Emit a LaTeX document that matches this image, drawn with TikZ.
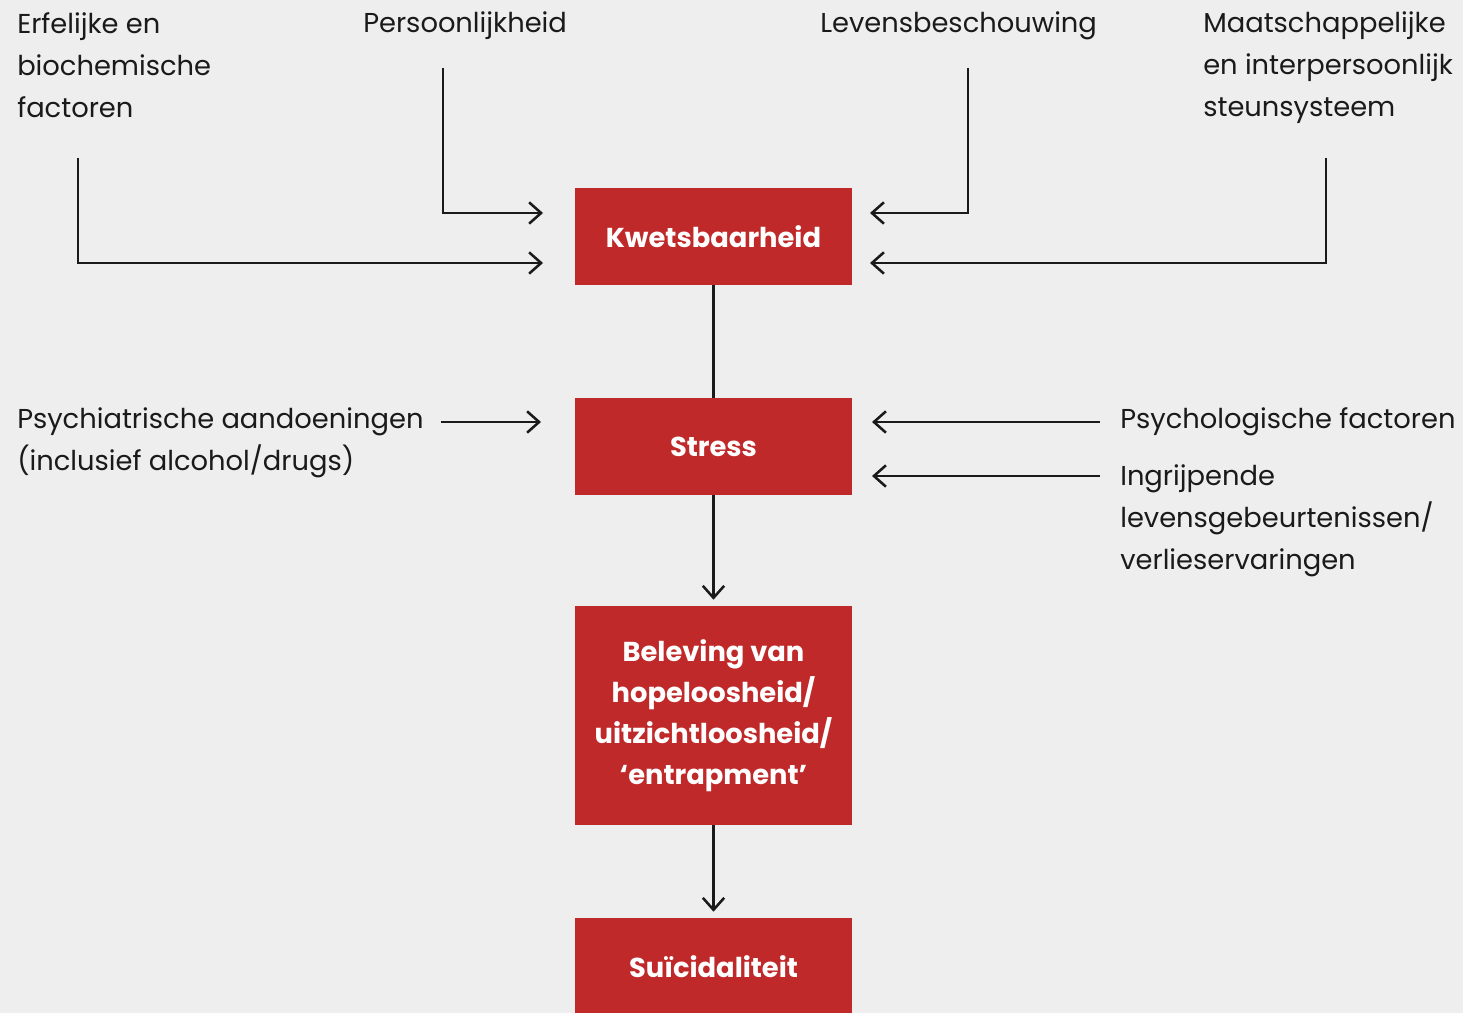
\documentclass[tikz,border=0pt]{standalone}
\usepackage{fontspec}
\setmainfont{Poppins}
\usetikzlibrary{arrows.meta}
\definecolor{bg}{HTML}{EEEEEE}
\definecolor{boxred}{HTML}{C0292A}
\definecolor{ink}{HTML}{1A1A1A}
\begin{document}
\begin{tikzpicture}[x=0.75pt,y=-0.75pt,
  redbox/.style={fill=boxred,draw=none,minimum width=207.75pt,minimum height=72.75pt,
    text=white,align=center,font=\fontsize{20.5}{30.75}\selectfont\bfseries,inner sep=0pt},
  lbl/.style={anchor=west,align=left,text=ink,inner sep=0pt,font=\fontsize{20.5}{31.5}\selectfont},
  conn/.style={draw=ink,line width=1.9pt},
  arr/.style={conn,-{Straight Barb[length=9pt,width=16pt,line width=1.9pt]}}]
\useasboundingbox[fill=bg] (0,0) rectangle (1463,1013);
% boxes
\node[redbox] (kw) at (713.5,236.5) {Kwetsbaarheid};
\node[redbox] (st) at (713.5,446.5) {Stress};
\node[redbox,minimum height=164.25pt] (be) at (713.5,715.5) {Beleving van\\hopeloosheid/\\uitzichtloosheid/\\‘entrapment’};
\node[redbox] (su) at (713.5,966.5) {Suïcidaliteit};
% labels
\node[lbl] (erf) at (17,65) {Erfelijke en\\biochemische\\factoren};
\node[lbl] (per) at (363,26) {Persoonlijkheid};
\node[lbl] (lev) at (820,26) {Levensbeschouwing};
\node[lbl] (maa) at (1203,68) {Maatschappelijke\\en interpersoonlijk\\steunsysteem};
\node[lbl] (psy) at (17,443) {Psychiatrische aandoeningen\\(inclusief alcohol/drugs)};
\node[lbl] (psl) at (1120,422) {Psychologische factoren};
\node[lbl] (ing) at (1120,521) {Ingrijpende\\levensgebeurtenissen/\\verlieservaringen};
% connector coordinates
\coordinate (erfS) at (78,158);
\coordinate (perS) at (443,68);
\coordinate (levS) at (968,68);
\coordinate (maaS) at (1326,158);
\coordinate (kwL1) at (543,213);
\coordinate (kwL2) at (543,263);
\coordinate (kwR1) at (870,213);
\coordinate (kwR2) at (870,263);
\coordinate (psyS) at (441,422);
\coordinate (stL) at (541,422);
\coordinate (pslS) at (1100,422);
\coordinate (ingS) at (1100,476);
\coordinate (stR1) at (872,422);
\coordinate (stR2) at (872,476);
% connectors
\draw[arr] (erfS) |- (kwL2);
\draw[arr] (perS) |- (kwL1);
\draw[arr] (levS) |- (kwR1);
\draw[arr] (maaS) |- (kwR2);
\draw[conn] (kw.south) -- (st.north);
\draw[arr] (psyS) -- (stL);
\draw[arr] (pslS) -- (stR1);
\draw[arr] (ingS) -- (stR2);
\draw[arr,shorten >=4.5pt] (st.south) -- (be.north);
\draw[arr,shorten >=4.5pt] (be.south) -- (su.north);
\end{tikzpicture}
\end{document}
